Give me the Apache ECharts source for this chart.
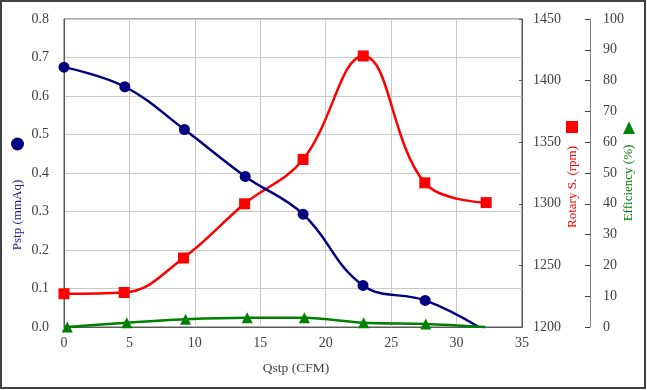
<!DOCTYPE html>
<html><head><meta charset="utf-8">
<script src="https://cdn.jsdelivr.net/npm/echarts@6/dist/echarts.min.js"></script>
<style>html,body{margin:0;padding:0;background:#fff}#c{width:647px;height:390px}</style>
</head><body><div id="c"></div>
<script>
// Data
var qPstp = [0.0, 4.65, 9.2, 13.85, 18.27, 22.85, 27.6, 31.7];
var pstp  = [0.675, 0.624, 0.513, 0.391, 0.293, 0.108, 0.069, 0.0];
var qRot  = [0.0, 4.6, 9.13, 13.8, 18.27, 22.87, 27.57, 32.26];
var rotary = [1227, 1228, 1256, 1300, 1336, 1420, 1317, 1301];
var qEff  = [0.25, 4.8, 9.29, 14.0, 18.37, 22.9, 27.65, 32.2];
var eff   = [0.0, 1.4, 2.5, 3.0, 3.0, 1.4, 1.0, 0.0];
var xTitle = 'Qstp (CFM)';
var y1Title = 'Pstp (mmAq)';
var y2Title = 'Rotary S. (rpm)';
var y3Title = 'Efficiency (%)';

function pairs(xs, ys, lastNoSymbol) {
  return xs.map(function (x, i) {
    var d = { value: [x, ys[i]] };
    if (lastNoSymbol && i === xs.length - 1) d.symbol = 'none';
    return d;
  });
}

var FONT = 'Liberation Serif';
var txt = '#404040';
var chart = echarts.init(document.getElementById('c'));
chart.setOption({
  animation: false,
  backgroundColor: '#fff',
  grid: { left: 64, top: 19, right: 125, bottom: 63, show: true, borderColor: '#595959', borderWidth: 1, backgroundColor: 'transparent' },
  xAxis: {
    type: 'value', min: 0, max: 35, interval: 5,
    axisLine: { lineStyle: { color: '#595959' } },
    axisTick: { show: false },
    axisLabel: { color: txt, fontFamily: FONT, fontSize: 14, margin: 9 },
    splitLine: { show: true, lineStyle: { color: '#c8c8c8', width: 1 } }
  },
  yAxis: [
    {
      type: 'value', min: 0, max: 0.8, interval: 0.1, position: 'left',
      axisLine: { show: true, lineStyle: { color: '#595959' } },
      axisTick: { show: false },
      axisLabel: { color: txt, fontFamily: FONT, fontSize: 14, margin: 15, formatter: function (v) { return v.toFixed(1); } },
      splitLine: { show: true, lineStyle: { color: '#c8c8c8', width: 1 } }
    },
    {
      type: 'value', min: 1200, max: 1450, interval: 50, position: 'right',
      axisLine: { show: true, lineStyle: { color: '#595959' } },
      axisTick: { show: true, inside: true, length: 3, lineStyle: { color: '#595959' } },
      axisLabel: { color: txt, fontFamily: FONT, fontSize: 14, margin: 11, formatter: function (v) { return String(v); } },
      splitLine: { show: false }
    },
    {
      type: 'value', min: 0, max: 100, interval: 10, position: 'right', offset: 68,
      axisLine: { show: true, lineStyle: { color: '#7f7f7f' } },
      axisTick: { show: true, inside: true, length: 5, lineStyle: { color: '#404040' } },
      axisLabel: { color: txt, fontFamily: FONT, fontSize: 14, margin: 13, formatter: function (v) { return String(v); } },
      splitLine: { show: false }
    }
  ],
  series: [
    {
      type: 'line', yAxisIndex: 1, data: pairs(qRot, rotary, false), smooth: 0.4, clip: false,
      symbol: 'rect', symbolSize: 11,
      lineStyle: { color: '#ff0000', width: 2.5 }, itemStyle: { color: '#ff0000' }
    },
    {
      type: 'line', yAxisIndex: 0, data: pairs(qPstp, pstp, true), smooth: 0.4, clip: false,
      symbol: 'circle', symbolSize: 11,
      lineStyle: { color: '#000080', width: 2.5 }, itemStyle: { color: '#000080' }
    },
    {
      type: 'line', yAxisIndex: 2, data: pairs(qEff, eff, true), smooth: 0.3, clip: false,
      symbol: 'triangle', symbolSize: 11,
      lineStyle: { color: '#008000', width: 2.5 }, itemStyle: { color: '#008000' }
    }
  ],
  graphic: [
    { type: 'rect', shape: { x: 1, y: 1, width: 644, height: 387 }, style: { fill: 'none', stroke: '#404040', lineWidth: 2 }, silent: true, z: 100 },
    { type: 'text', x: 296, y: 368, style: { text: xTitle, font: '13.5px "Liberation Serif"', fill: txt, textAlign: 'center', textVerticalAlign: 'middle' } },
    { type: 'circle', shape: { cx: 17.5, cy: 144, r: 6.5 }, style: { fill: '#000080' } },
    { type: 'text', x: 18, y: 215, rotation: Math.PI / 2, style: { text: y1Title, font: '13px "Liberation Serif"', fill: '#1a1a9a', textAlign: 'center', textVerticalAlign: 'middle' } },
    { type: 'rect', shape: { x: 566, y: 121, width: 12, height: 12 }, style: { fill: '#ff0000' } },
    { type: 'text', x: 573, y: 187, rotation: Math.PI / 2, style: { text: y2Title, font: '13px "Liberation Serif"', fill: '#ff0000', textAlign: 'center', textVerticalAlign: 'middle' } },
    { type: 'polygon', shape: { points: [[629, 121.5], [635, 134], [623, 134]] }, style: { fill: '#008000' } },
    { type: 'text', x: 629, y: 183, rotation: Math.PI / 2, style: { text: y3Title, font: '13px "Liberation Serif"', fill: '#008000', textAlign: 'center', textVerticalAlign: 'middle' } }
  ]
});
</script></body></html>
